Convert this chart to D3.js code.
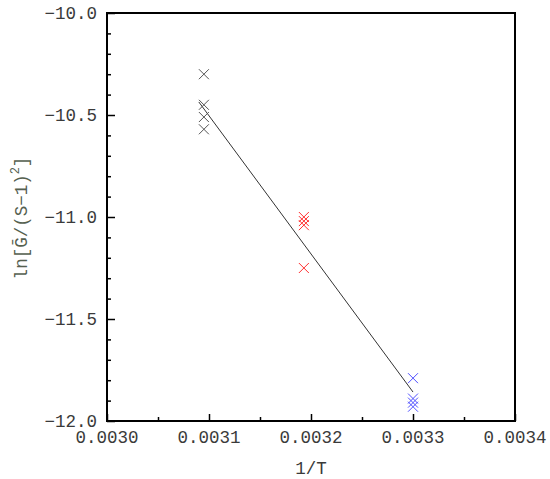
<!DOCTYPE html>
<html>
<head>
<meta charset="utf-8">
<script src="https://cdn.jsdelivr.net/npm/d3@7"></script>
<style>
  body { margin: 0; background: #fff; }
  text { font-family: "Liberation Mono", "DejaVu Sans Mono", monospace; }
</style>
</head>
<body>
<svg id="chart" width="550" height="479"></svg>
<script>
// data
const blackX = [0.003095, 0.003095, 0.003095, 0.003095];
const blackY = [-10.30, -10.45, -10.51, -10.57];
const redX = [0.003193, 0.003193, 0.003193, 0.003193];
const redY = [-11.00, -11.02, -11.04, -11.25];
const blueX = [0.0033, 0.0033, 0.0033, 0.0033];
const blueY = [-11.79, -11.89, -11.91, -11.93];
const fitX = [0.00309, 0.0033];
const fitY = [-10.436, -11.858];

const xTicks = [0.0030, 0.0031, 0.0032, 0.0033, 0.0034];
const yTicks = [-12.0, -11.5, -11.0, -10.5, -10.0];

const plotLeft = 107, plotRight = 515, plotTop = 13, plotBottom = 421;

const xScale = d3.scaleLinear()
    .domain([0.0030, 0.0034])
    .range([plotLeft, plotRight]);

const yScale = d3.scaleLinear()
    .domain([-12, -10])
    .range([plotBottom, plotTop]);

const svg = d3.select("#chart");

// fitted line
svg.append("line")
    .attr("x1", xScale(fitX[0]))
    .attr("y1", yScale(fitY[0]))
    .attr("x2", xScale(fitX[1]))
    .attr("y2", yScale(fitY[1]))
    .attr("stroke", "#333")
    .attr("stroke-width", 1);

function drawCrosses(xs, ys, color) {
    const pts = xs.map((x, i) => [x, ys[i]]);
    const s = 5;
    svg.append("g").selectAll("path")
        .data(pts)
        .enter().append("path")
        .attr("d", d => {
            const cx = xScale(d[0]), cy = yScale(d[1]);
            return `M${cx - s},${cy - s}L${cx + s},${cy + s}M${cx - s},${cy + s}L${cx + s},${cy - s}`;
        })
        .attr("stroke", color)
        .attr("stroke-width", 1)
        .attr("fill", "none");
}

drawCrosses(blackX, blackY, "#555");
drawCrosses(redX, redY, "#ff3030");
drawCrosses(blueX, blueY, "#5050ff");

// inward ticks
const xAxis = d3.axisBottom(xScale)
    .tickValues(d3.range(0, 9).map(i => 0.0030 + i * 0.00005))
    .tickSizeInner(0).tickSizeOuter(0).tickFormat("");
const gx = svg.append("g").attr("transform", `translate(0,${plotBottom})`).call(xAxis);
gx.select(".domain").remove();
gx.selectAll(".tick line")
    .attr("y2", (d, i) => i % 2 === 0 ? -7 : -4)
    .attr("stroke", "#000").attr("stroke-width", 1.5);

const yAxis = d3.axisLeft(yScale)
    .tickValues(d3.range(0, 21).map(i => -12 + i * 0.1))
    .tickSizeInner(0).tickSizeOuter(0).tickFormat("");
const gy = svg.append("g").attr("transform", `translate(${plotLeft},0)`).call(yAxis);
gy.select(".domain").remove();
gy.selectAll(".tick line")
    .attr("x2", (d, i) => i % 5 === 0 ? 8 : 4)
    .attr("stroke", "#000").attr("stroke-width", 1.5);

// frame
svg.append("rect")
    .attr("x", plotLeft).attr("y", plotTop)
    .attr("width", plotRight - plotLeft).attr("height", plotBottom - plotTop)
    .attr("fill", "none")
    .attr("stroke", "#000")
    .attr("stroke-width", 2);

// tick labels
svg.append("g").selectAll("text")
    .data(xTicks)
    .enter().append("text")
    .attr("x", d => xScale(d))
    .attr("y", 443)
    .attr("text-anchor", "middle")
    .attr("font-size", 17.5)
    .attr("fill", "#3a3a3a")
    .text(d => d.toFixed(4));

svg.append("g").selectAll("text")
    .data(yTicks)
    .enter().append("text")
    .attr("x", 97)
    .attr("y", d => yScale(d) + 6)
    .attr("text-anchor", "end")
    .attr("font-size", 17.5)
    .attr("fill", "#3a3a3a")
    .text(d => "\u2212" + Math.abs(d).toFixed(1));

// axis titles
svg.append("text")
    .attr("x", 311)
    .attr("y", 474)
    .attr("text-anchor", "middle")
    .attr("font-size", 17.5)
    .attr("fill", "#3a3a3a")
    .text("1/T");

const yt = svg.append("text")
    .attr("transform", "translate(27,218) rotate(-90)")
    .attr("text-anchor", "middle")
    .attr("font-size", 17.5)
    .attr("fill", "#55604f");
yt.append("tspan").text("ln[G\u0304/(S\u22121)");
yt.append("tspan").attr("dy", -8).attr("font-size", 12).text("2");
yt.append("tspan").attr("dy", 8).text("]");
</script>
</body>
</html>
